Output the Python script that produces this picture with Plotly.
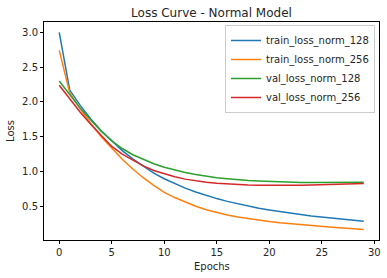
import plotly.graph_objects as go

epochs = list(range(30))

train_loss_norm_128 = [3.00, 2.17, 1.95, 1.755, 1.585, 1.435, 1.30, 1.18, 1.075, 0.975,
                       0.895, 0.825, 0.76, 0.705, 0.655, 0.61, 0.57, 0.535, 0.50, 0.47,
                       0.445, 0.42, 0.40, 0.38, 0.36, 0.345, 0.328, 0.312, 0.297, 0.283]
train_loss_norm_256 = [2.74, 2.13, 1.90, 1.69, 1.50, 1.33, 1.175, 1.035, 0.91, 0.80,
                       0.70, 0.625, 0.56, 0.50, 0.45, 0.41, 0.375, 0.345, 0.32, 0.30,
                       0.28, 0.262, 0.247, 0.233, 0.22, 0.208, 0.197, 0.186, 0.175, 0.165]
val_loss_norm_128 = [2.30, 2.10, 1.91, 1.74, 1.58, 1.44, 1.33, 1.24, 1.17, 1.11,
                     1.06, 1.02, 0.985, 0.955, 0.93, 0.91, 0.895, 0.88, 0.87, 0.862,
                     0.855, 0.85, 0.846, 0.843, 0.841, 0.84, 0.84, 0.84, 0.842, 0.844]
val_loss_norm_256 = [2.24, 2.04, 1.85, 1.68, 1.52, 1.36, 1.25, 1.16, 1.08, 1.015,
                     0.965, 0.925, 0.89, 0.865, 0.845, 0.83, 0.82, 0.812, 0.806, 0.802,
                     0.80, 0.80, 0.80, 0.802, 0.805, 0.808, 0.812, 0.817, 0.822, 0.828]

series = [
    ("train_loss_norm_128", train_loss_norm_128, "#1f77b4"),
    ("train_loss_norm_256", train_loss_norm_256, "#ff7f0e"),
    ("val_loss_norm_128", val_loss_norm_128, "#2ca02c"),
    ("val_loss_norm_256", val_loss_norm_256, "#d62728"),
]

x_ticks = [0, 5, 10, 15, 20, 25, 30]
y_ticks = [0.5, 1.0, 1.5, 2.0, 2.5, 3.0]

FONT = "DejaVu Sans"
TXT = "#262626"

fig = go.Figure()
for name, vals, color in series:
    fig.add_trace(go.Scatter(x=epochs, y=vals, mode="lines", name=name,
                             line=dict(color=color, width=1.5)))

W, H = 387, 278
L, R, T, B = 44, 8, 22, 38
PW, PH = W - L - R, H - T - B

fig.update_layout(
    width=W, height=H,
    margin=dict(l=L, r=R, t=T, b=B, autoexpand=False),
    paper_bgcolor="white", plot_bgcolor="white",
    font=dict(family=FONT, size=10, color=TXT),
    title=dict(text="Loss Curve - Normal Model", x=0.5, xref="paper",
               y=1 - 12.5 / H, yref="container", yanchor="middle", xanchor="center",
               font=dict(size=12, color=TXT)),
    legend=dict(x=(375 - L) / PW, y=1 - (25 - T) / PH, xanchor="right", yanchor="top",
                bordercolor="#cccccc", borderwidth=1, bgcolor="rgba(255,255,255,0.8)",
                font=dict(size=10, color=TXT), tracegroupgap=0,
                itemwidth=30),
    showlegend=True,
    annotations=[
        dict(text="Epochs", xref="paper", yref="paper", x=0.5, y=-(266 - T - PH) / PH,
             yanchor="middle", xanchor="center", showarrow=False,
             font=dict(size=10, color=TXT)),
        dict(text="Loss", xref="paper", yref="paper", x=-(L - 10) / PW, y=0.5,
             yanchor="middle", xanchor="center", showarrow=False, textangle=-90,
             font=dict(size=10, color=TXT)),
    ],
)
fig.update_xaxes(
    range=[-1.45, 30.45], tickvals=x_ticks, ticktext=[str(v) for v in x_ticks],
    showgrid=False, zeroline=False, showline=True, linecolor="black", linewidth=1,
    mirror=True, ticks="outside", ticklen=3, tickcolor="black", automargin=False,
)
fig.update_yaxes(
    range=[0.015, 3.148], tickvals=y_ticks, ticktext=[f"{v:.1f}" for v in y_ticks],
    showgrid=False, zeroline=False, showline=True, linecolor="black", linewidth=1,
    mirror=True, ticks="outside", ticklen=3, tickcolor="black", automargin=False,
)

fig.write_html(
    "out.html",
    config={"displayModeBar": False},
    post_script="document.body.style.margin='0';document.body.style.padding='0';"
                "document.documentElement.style.overflow='hidden';",
)
